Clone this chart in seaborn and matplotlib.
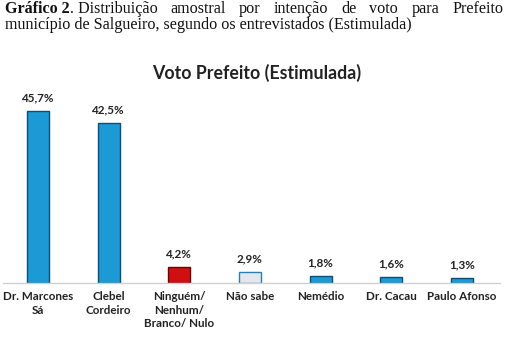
import matplotlib
matplotlib.use("Agg")
import matplotlib.pyplot as plt
import seaborn as sns
import pandas as pd

categories = ["Dr. Marcones\nSá", "Clebel\nCordeiro", "Ninguém/\nNenhum/\nBranco/ Nulo",
              "Não sabe", "Nemédio", "Dr. Cacau", "Paulo Afonso"]
values = [45.7, 42.5, 4.2, 2.9, 1.8, 1.6, 1.3]
labels = ["45,7%", "42,5%", "4,2%", "2,9%", "1,8%", "1,6%", "1,3%"]
colors = ["#1C9AD6", "#1C9AD6", "#D01010", "#E4E8EC", "#1C9AD6", "#1C9AD6", "#1C9AD6"]
edges = ["#0B4F78", "#0B4F78", "#6E0000", "#2A7FB0", "#0B4F78", "#0B4F78", "#0B4F78"]

sns.set_style("white")
plt.rcParams['font.family'] = ['Lato', 'DejaVu Sans']

W, H = 514, 341
fig = plt.figure(figsize=(W/100, H/100), dpi=100)
ax = fig.add_axes([3/W, 58/H, 497/W, 183/H])

df = pd.DataFrame({"cat": categories, "val": values})
sns.barplot(data=df, x="cat", y="val", hue="cat", palette=colors, legend=False,
            width=0.31, ax=ax, saturation=1)
for p, ec in zip(ax.patches, edges):
    p.set_edgecolor(ec)
    p.set_linewidth(1.0)

for i, (v, lab) in enumerate(zip(values, labels)):
    ax.text(i, v + 2.0, lab, ha="center", va="bottom", fontsize=8.4,
            fontweight="bold", color="#222222")

ax.set_ylim(0, 48.7)
ax.set_xlim(-0.495, 6.54)
ax.set_xlabel("")
ax.set_ylabel("")
ax.set_yticks([])
ax.tick_params(axis="x", length=0, pad=6, labelsize=8.4)
for t in ax.get_xticklabels():
    t.set_fontweight("bold")
    t.set_color("#222222")
    t.set_linespacing(1.25)
for s in ["top", "right", "left"]:
    ax.spines[s].set_visible(False)
ax.spines["bottom"].set_color("#D0D0D0")
ax.spines["bottom"].set_linewidth(1)

fig.text(0.5, 1 - 73/H, "Voto Prefeito (Estimulada)", ha="center", va="center",
         fontsize=12.8, fontweight="bold", color="#222222")

# caption (first line justified)
serif = ["Liberation Serif", "DejaVu Serif"]
fs = 11.6
renderer = fig.canvas.get_renderer()
line1 = [("Gráfico 2", "bold"), (". Distribuição", "normal"), ("amostral", "normal"),
         ("por", "normal"), ("intenção", "normal"), ("de", "normal"), ("voto", "normal"),
         ("para", "normal"), ("Prefeito", "normal")]
objs = []
for txt, wt in line1:
    o = fig.text(0, 1 - 13/H, txt, ha="left", va="baseline", fontsize=fs,
                 fontweight=wt, family=serif, color="#111111")
    objs.append(o)
widths = [o.get_window_extent(renderer=renderer).width for o in objs]
x0, x1 = 5.0, 503.0
gap = (x1 - x0 - sum(widths)) / (len(objs) - 2)
x = x0
for k, (o, w) in enumerate(zip(objs, widths)):
    o.set_x(x / W)
    x += w
    if k >= 1:
        x += gap
fig.text(5/W, 1 - 29/H,
         "município de Salgueiro, segundo os entrevistados (Estimulada)",
         ha="left", va="baseline", fontsize=fs, family=serif, color="#111111")

fig.savefig("out.png", dpi=100)
